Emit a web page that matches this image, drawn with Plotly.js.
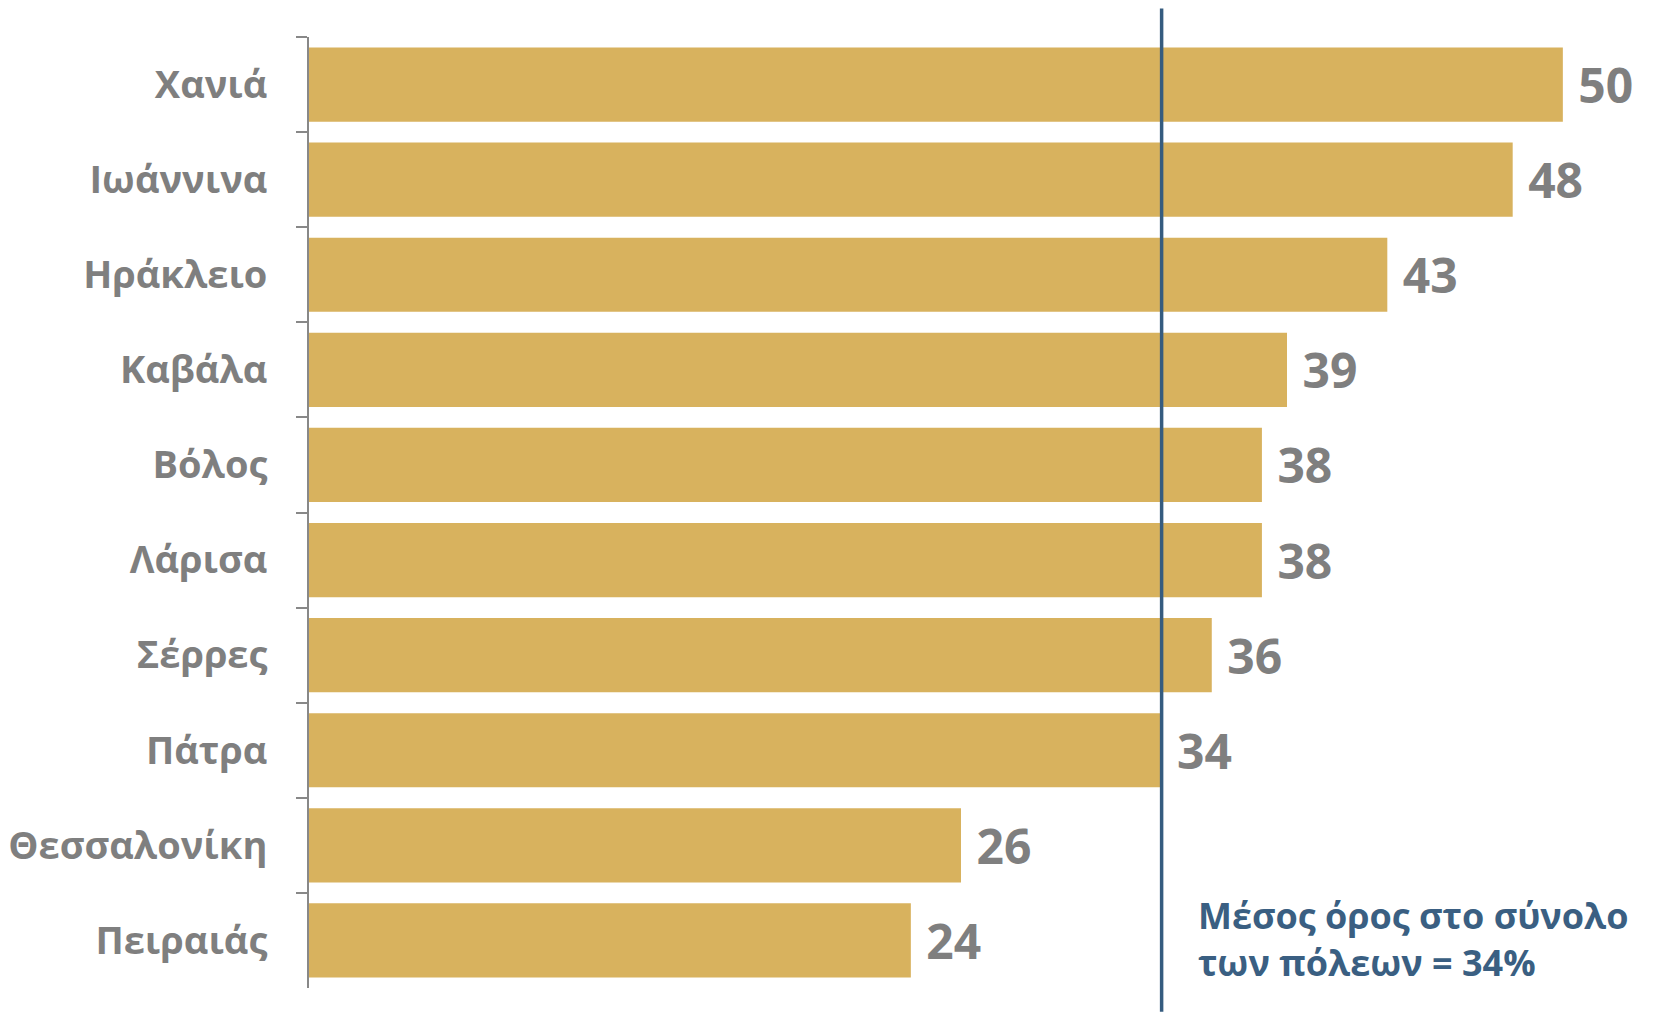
<!DOCTYPE html>
<html>
<head>
<meta charset="utf-8">
<script src="https://cdn.plot.ly/plotly-3.0.1.min.js"></script>
<style>html,body{margin:0;padding:0;background:#fff;}#chart{width:1662px;height:1017px;}</style>
</head>
<body>
<div id="chart"></div>
<script>
const cities = ["Χανιά", "Ιωάννινα", "Ηράκλειο", "Καβάλα", "Βόλος", "Λάρισα", "Σέρρες", "Πάτρα", "Θεσσαλονίκη", "Πειραιάς"];
const values = [50, 48, 43, 39, 38, 38, 36, 34, 26, 24];
const average = 34;
const averageLabel = "Μέσος όρος στο σύνολο<br>των πόλεων = 34%";

const trace = {
  type: "bar",
  orientation: "h",
  y: cities,
  x: values,
  marker: {color: "#d8b25e"},
  text: values.map(String),
  texttemplate: " %{text}",
  textposition: "outside",
  constraintext: "none",
  cliponaxis: false,
  textfont: {family: "Open Sans", size: 48, color: "#7f7f7f", weight: "bold"},
  hoverinfo: "skip"
};

const layout = {
  width: 1662,
  height: 1017,
  margin: {l: 309, r: 49, t: 37, b: 29},
  paper_bgcolor: "#ffffff",
  plot_bgcolor: "#ffffff",
  showlegend: false,
  bargap: 0.22,
  xaxis: {range: [0, 52], visible: false, showgrid: false, zeroline: false},
  yaxis: {
    type: "category",
    range: [9.5, -0.5],
    showline: true,
    linecolor: "#888888",
    linewidth: 2,
    ticks: "outside",
    tickson: "boundaries",
    ticklen: 11,
    tickwidth: 2,
    tickcolor: "#888888",
    ticklabelstandoff: 32,
    showgrid: false,
    zeroline: false,
    tickfont: {family: "Open Sans", size: 38, color: "#7f7f7f", weight: "bold"}
  },
  shapes: [{
    type: "line", xref: "x", yref: "paper",
    x0: average, x1: average, y0: -0.025, y1: 1.03,
    line: {color: "#365c7f", width: 3.5}
  }],
  annotations: [{
    xref: "x", yref: "paper", x: average, y: 0.052,
    xanchor: "left", yanchor: "middle", xshift: 34, align: "left",
    showarrow: false, text: averageLabel,
    font: {family: "Open Sans", size: 36, color: "#3a5f82", weight: "bold"}
  }]
};

Plotly.newPlot("chart", [trace], layout, {displayModeBar: false, staticPlot: true});
</script>
</body>
</html>
